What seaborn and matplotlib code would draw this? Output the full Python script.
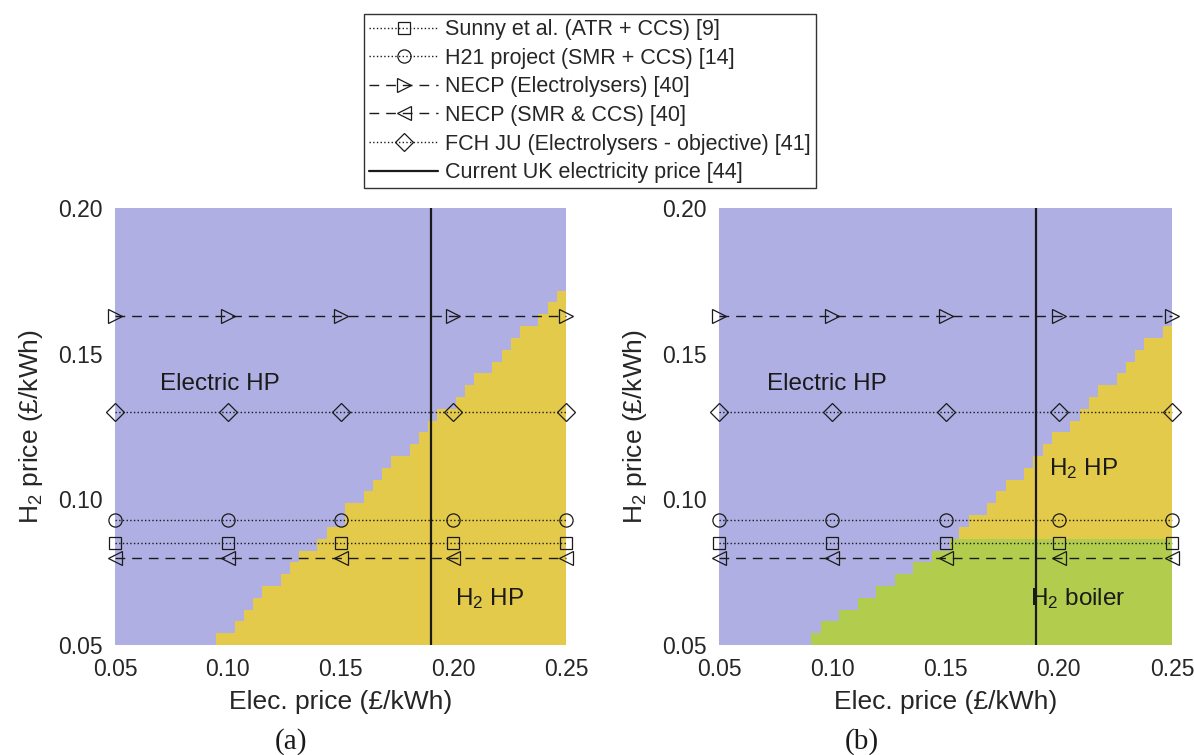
import numpy as np
import matplotlib
matplotlib.use("Agg")
import matplotlib.pyplot as plt
from matplotlib.colors import ListedColormap
import seaborn as sns

# ---------------- data ----------------
elec_ticks = [0.05, 0.10, 0.15, 0.20, 0.25]
h2_ticks = [0.05, 0.10, 0.15, 0.20]
elec_tick_labels = ["0.05", "0.10", "0.15", "0.20", "0.25"]
h2_tick_labels = ["0.05", "0.10", "0.15", "0.20"]

marker_elec = [0.05, 0.10, 0.15, 0.20, 0.25]
sunny_h2 = [0.085, 0.085, 0.085, 0.085, 0.085]
h21_h2 = [0.093, 0.093, 0.093, 0.093, 0.093]
necp_elec_h2 = [0.163, 0.163, 0.163, 0.163, 0.163]
necp_smr_h2 = [0.080, 0.080, 0.080, 0.080, 0.080]
fch_h2 = [0.130, 0.130, 0.130, 0.130, 0.130]
uk_elec_price = 0.19

series_labels = [
    "Sunny et al. (ATR + CCS) [9]",
    "H21 project (SMR + CCS) [14]",
    "NECP (Electrolysers) [40]",
    "NECP (SMR & CCS) [40]",
    "FCH JU (Electrolysers - objective) [41]",
]
uk_label = "Current UK electricity price [44]"

# region map: upper H2 price (£/kWh) of each technology region, per elec-price column (49 columns)
h2hp_top_a = ([0.0500] * 11 +
              [0.0541, 0.0541, 0.0581, 0.0622, 0.0662, 0.0703, 0.0703, 0.0743, 0.0784, 0.0824,
               0.0824, 0.0865, 0.0905, 0.0905, 0.0986, 0.0986, 0.1027, 0.1068, 0.1108, 0.1149,
               0.1149, 0.1189, 0.1230, 0.1270, 0.1311, 0.1311, 0.1351, 0.1392, 0.1432, 0.1432,
               0.1473, 0.1514, 0.1554, 0.1595, 0.1595, 0.1635, 0.1676, 0.1716])

boiler_top_b = ([0.0500] * 10 +
                [0.0541, 0.0581, 0.0581, 0.0622, 0.0622, 0.0662, 0.0662, 0.0703, 0.0703,
                 0.0743, 0.0743, 0.0784, 0.0784, 0.0824, 0.0824] +
                [0.0865] * 24)

h2hp_top_b = ([0.0500] * 26 +
              [0.0905, 0.0946, 0.0946, 0.0986, 0.1027, 0.1068, 0.1068, 0.1108, 0.1149, 0.1189,
               0.1230, 0.1230, 0.1270, 0.1311, 0.1351, 0.1392, 0.1392, 0.1432, 0.1473, 0.1514,
               0.1554, 0.1554, 0.1595])

region_names = ["Electric HP", "H$_2$ HP", "H$_2$ boiler"]

# ---------------- style ----------------
sns.set_theme(style="white")
plt.rcParams["font.family"] = ["Liberation Sans", "DejaVu Sans"]
plt.rcParams["mathtext.fontset"] = "custom"
plt.rcParams["mathtext.rm"] = "Liberation Sans"
plt.rcParams["mathtext.it"] = "Liberation Sans"
plt.rcParams["mathtext.default"] = "regular"

c_blue = "#AFAFE3"
c_yellow = "#E4CA4B"
c_green = "#B2CC4D"
axis_col = "#262626"

W, H = 1194, 755
fig = plt.figure(figsize=(W / 100, H / 100), dpi=100)
ax_a = fig.add_axes([115 / W, 1 - 645 / H, 451 / W, 437 / H])
ax_b = fig.add_axes([719 / W, 1 - 645 / H, 453 / W, 437 / H])

elec_edges = np.linspace(0.05, 0.25, 50)
h2_edges = np.linspace(0.05, 0.20, 38)
h2_centres = (h2_edges[:-1] + h2_edges[1:]) / 2

Za = np.where(h2_centres[:, None] < np.array(h2hp_top_a)[None, :], 1, 0)
Zb = np.where(h2_centres[:, None] < np.array(boiler_top_b)[None, :], 2,
              np.where(h2_centres[:, None] < np.array(h2hp_top_b)[None, :], 1, 0))

cmap = ListedColormap([c_blue, c_yellow, c_green])

series_y = [sunny_h2, h21_h2, necp_elec_h2, necp_smr_h2, fch_h2]
series_style = [
    dict(linestyle=":", marker="s", markersize=8),
    dict(linestyle=":", marker="o", markersize=9.5),
    dict(linestyle=(0, (7, 5)), marker=">", markersize=10),
    dict(linestyle=(0, (7, 5)), marker="<", markersize=10),
    dict(linestyle=":", marker="D", markersize=9),
]

for ax, Z in [(ax_a, Za), (ax_b, Zb)]:
    ax.pcolormesh(elec_edges, h2_edges, Z, cmap=cmap, vmin=-0.5, vmax=2.5,
                  shading="flat", antialiased=False, edgecolor="none")
    for yv, lab, st in zip(series_y, series_labels, series_style):
        sns.lineplot(x=marker_elec, y=yv, ax=ax, color="k", linewidth=1.0,
                     markeredgecolor="k", markeredgewidth=0.9,
                     label=lab, legend=False, clip_on=False, **st)
    for ln in ax.get_lines():
        ln.set_markerfacecolor("none")
    ax.axvline(uk_elec_price, color="k", linewidth=1.6, label=uk_label)
    ax.set_xlim(0.05, 0.25)
    ax.set_ylim(0.05, 0.20)
    ax.set_xticks(elec_ticks)
    ax.set_xticklabels(elec_tick_labels)
    ax.set_yticks(h2_ticks)
    ax.set_yticklabels(h2_tick_labels)
    ax.tick_params(axis="both", length=0, labelsize=16.5, colors=axis_col, pad=9)
    for s in ax.spines.values():
        s.set_visible(False)
    ax.set_xlabel("Elec. price (£/kWh)", fontsize=19, color=axis_col, labelpad=7)
    ax.set_ylabel("H$_2$ price (£/kWh)", fontsize=19, color=axis_col, labelpad=9)

# region labels
ax_a.text(0.070, 0.1396, region_names[0], fontsize=17.5, color="k", va="center", ha="left")
ax_a.text(0.2008, 0.066, region_names[1], fontsize=17.5, color="k", va="center", ha="left")
ax_b.text(0.0711, 0.1396, region_names[0], fontsize=17.5, color="k", va="center", ha="left")
ax_b.text(0.1955, 0.1107, region_names[1], fontsize=17.5, color="k", va="center", ha="left")
ax_b.text(0.1875, 0.066, region_names[2], fontsize=17.5, color="k", va="center", ha="left")

# legend
handles, labels = ax_a.get_legend_handles_labels()
leg = fig.legend(handles, labels, loc="upper left",
                 bbox_to_anchor=(364 / W, 1 - 14 / H), bbox_transform=fig.transFigure,
                 frameon=True, fancybox=False, edgecolor="#333333", framealpha=1,
                 fontsize=15.5, handlelength=3.2, handletextpad=0.3, labelspacing=0.35,
                 borderpad=0.25, borderaxespad=0, numpoints=1)
leg.get_frame().set_linewidth(1.0)

# panel captions
fig.text(291 / W, 1 - 742 / H, "(a)", fontsize=21, family="Liberation Serif",
         ha="center", va="center", color="k")
fig.text(862 / W, 1 - 742 / H, "(b)", fontsize=21, family="Liberation Serif",
         ha="center", va="center", color="k")

fig.savefig("out.png", dpi=100)
